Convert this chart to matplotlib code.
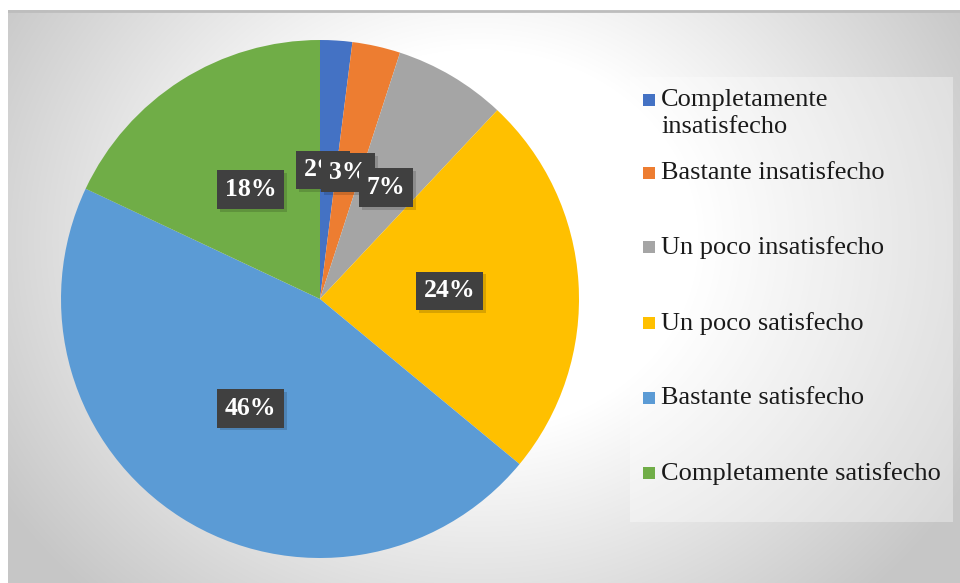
import numpy as np
import matplotlib
matplotlib.use("Agg")
import matplotlib.pyplot as plt

categories = [
    "Completamente\ninsatisfecho",
    "Bastante insatisfecho",
    "Un poco insatisfecho",
    "Un poco satisfecho",
    "Bastante satisfecho",
    "Completamente satisfecho",
]
values = [2, 3, 7, 24, 46, 18]
colors = ["#4472C4", "#ED7D31", "#A5A5A5", "#FFC000", "#5B9BD5", "#70AD47"]

W, H = 960, 583
fig = plt.figure(figsize=(W / 100, H / 100), dpi=100)
fig.patch.set_facecolor("white")

# chart area background: radial gray gradient
bg = fig.add_axes([8 / W, 0, 1 - 8 / W, 1 - 10 / H])
yy, xx = np.mgrid[0:573, 0:952]
d = np.hypot(xx - 470, (yy - 230) * 1.15)
t = np.clip((d - 220) / (560 - 220), 0, 1)
shade = 1.0 - 0.22 * t
bg.imshow(np.dstack([shade] * 3), extent=(0, 952, 573, 0), aspect="auto")
bg.axhline(0.5, color="#bdbdbd", lw=2)
bg.set_xlim(0, 952)
bg.set_ylim(573, 0)
bg.axis("off")

# pie
cx, cy, r = 320, 299, 259
ax = fig.add_axes([(cx - r) / W, (H - cy - r) / H, 2 * r / W, 2 * r / H])
ax.patch.set_alpha(0)
wedges, _ = ax.pie(values, colors=colors, startangle=90, counterclock=False,
                   radius=1.0, wedgeprops=dict(linewidth=0))
ax.set_xlim(-1, 1)
ax.set_ylim(-1, 1)
ax.axis("off")

# data labels
box = dict(boxstyle="square,pad=0.3", fc="#404040", ec="none")
shadow = dict(boxstyle="square,pad=0.3", fc="black", ec="none", alpha=0.15)
start = 90.0
total = sum(values)
for i, v in enumerate(values):
    ang = start - 360.0 * (v / 2) / total
    start -= 360.0 * v / total
    x = 0.5 * np.cos(np.radians(ang))
    y = 0.5 * np.sin(np.radians(ang))
    if i == 0:
        x -= 0.02
    kw = dict(ha="center", va="center", fontsize=18.5, fontweight="bold",
              family="Liberation Serif")
    ax.annotate(f"{v}%", (x, y), xytext=(2, -2), textcoords="offset points",
                color=(0, 0, 0, 0), bbox=shadow, zorder=5 + 2 * i, **kw)
    ax.text(x, y, f"{v}%", color="white", bbox=box, zorder=6 + 2 * i, **kw)

# legend box
lg = fig.add_axes([630 / W, (H - 522) / H, 323 / W, 445 / H])
lg.set_xlim(630, 953)
lg.set_ylim(522, 77)
lg.add_patch(plt.Rectangle((630, 77), 323, 445, fc="white", alpha=0.35, ec="none"))
lg.axis("off")
ys = [100, 173, 247, 323, 398, 473]
for lab, col, y in zip(categories, colors, ys):
    lg.add_patch(plt.Rectangle((643, y - 6), 12, 12, fc=col, ec="none"))
    lg.text(661, y - 11, lab, ha="left", va="top", fontsize=19,
            family="Liberation Serif", color="#1a1a1a", linespacing=1.32)

fig.savefig("out.png", dpi=100)
